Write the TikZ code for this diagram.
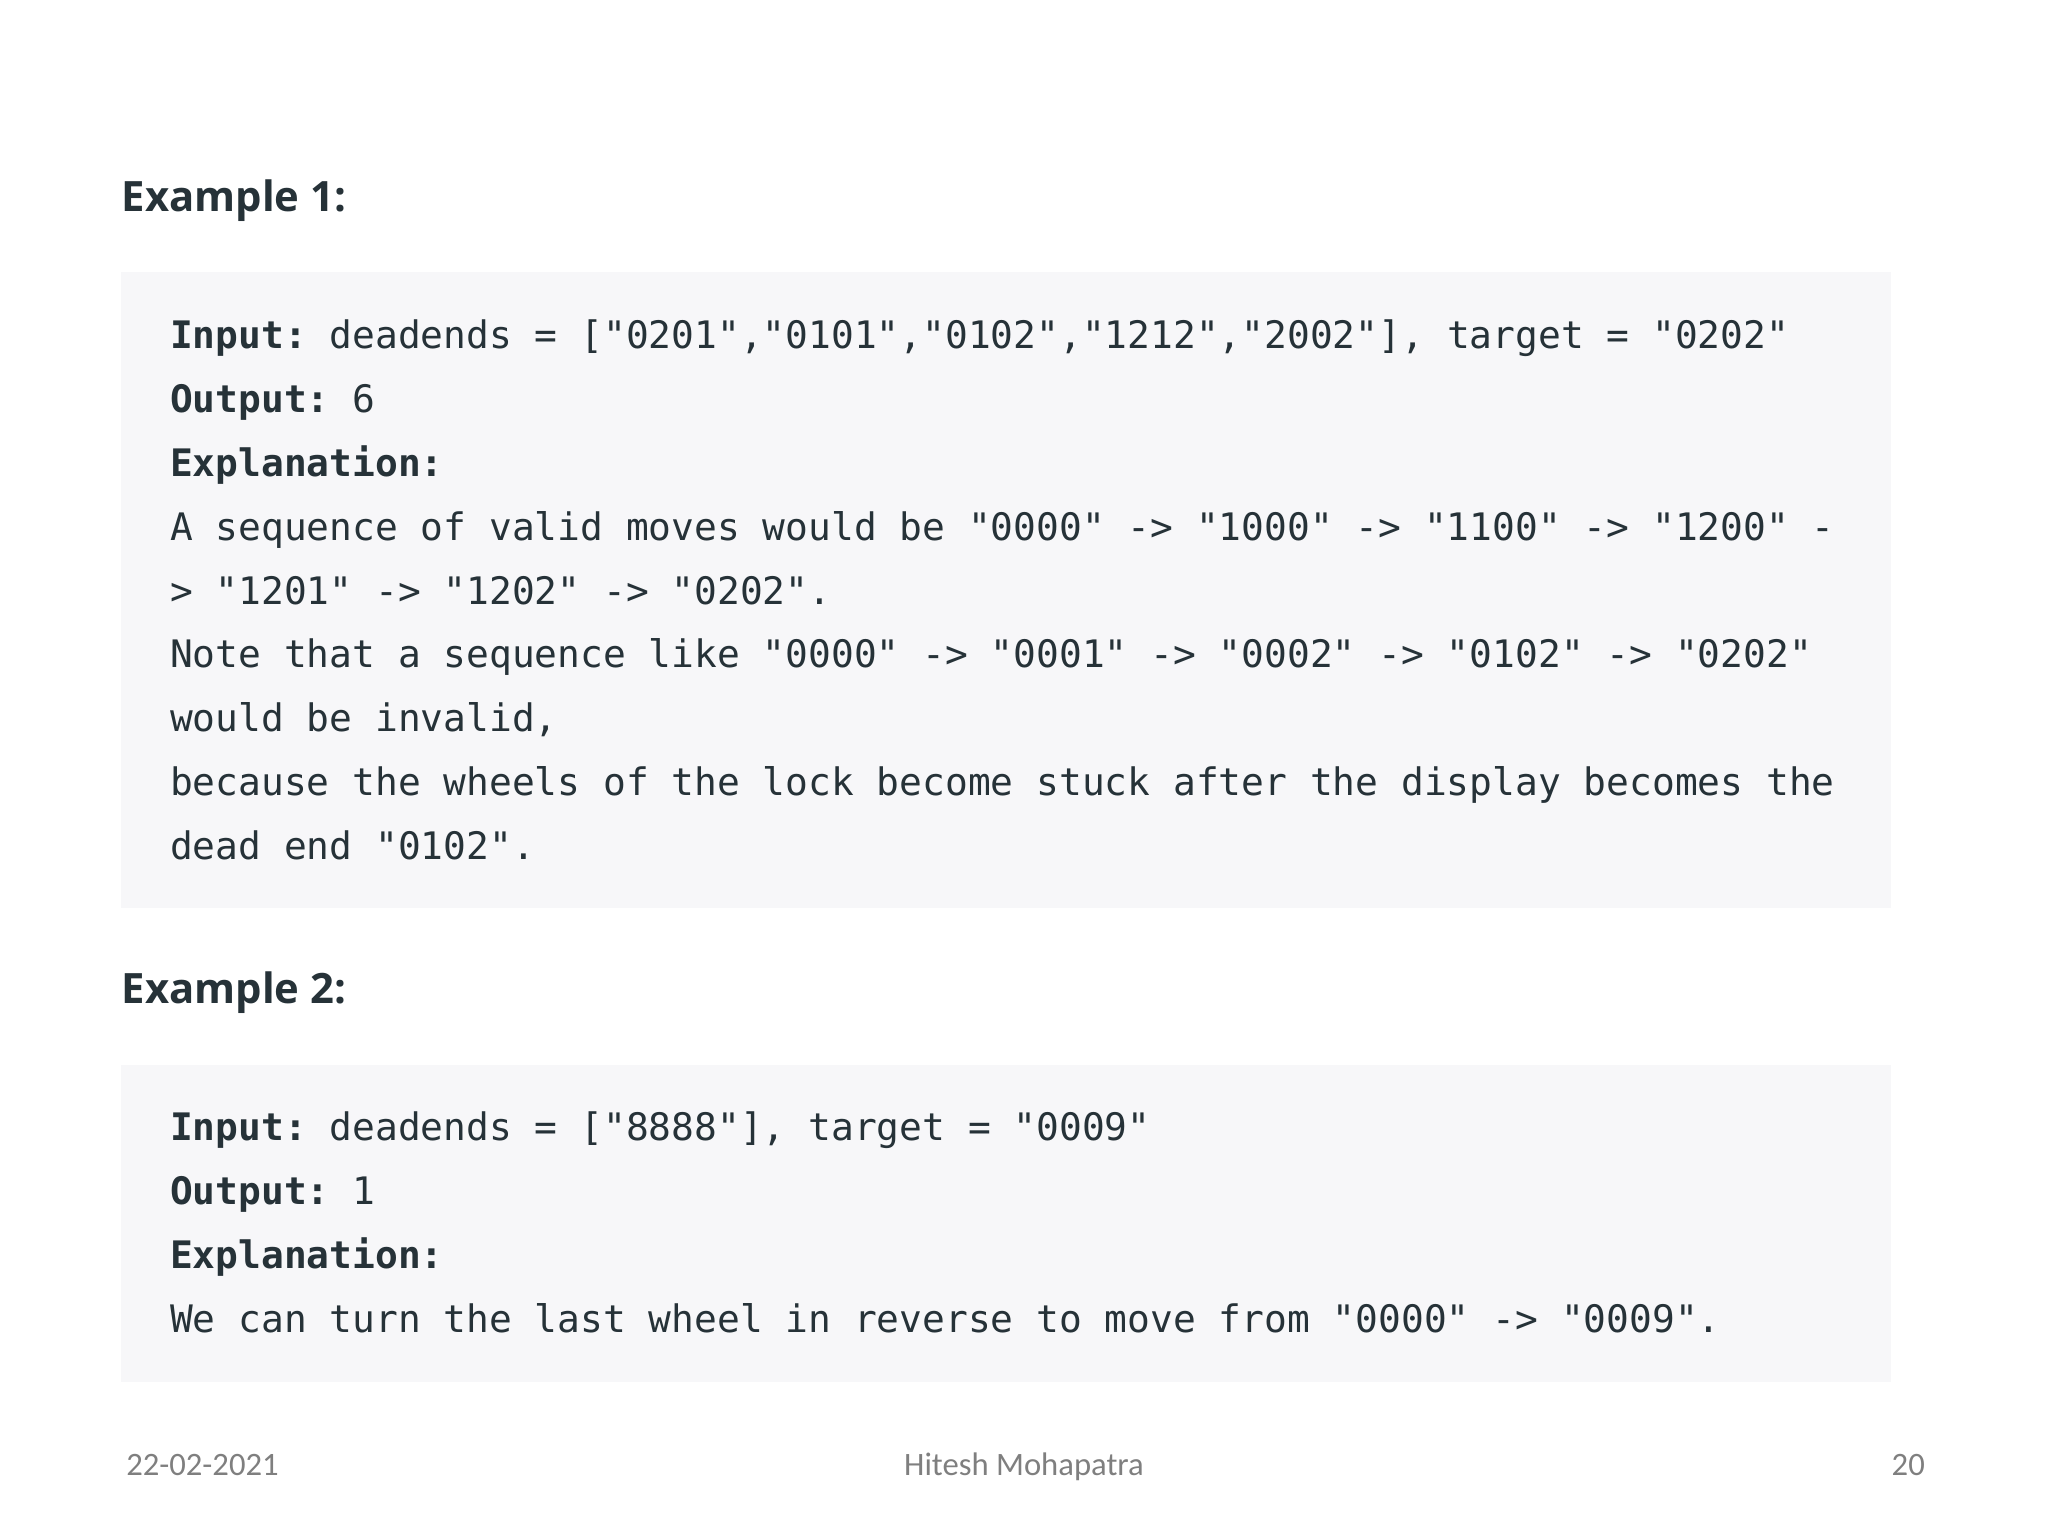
\documentclass[tikz,border=0pt]{standalone}
\usepackage{fontspec}
\setmainfont{Carlito}
\setmonofont{DejaVu Sans Mono}
\newfontfamily\headfont{Open Sans}
\definecolor{txt}{HTML}{263238}
\definecolor{boxbg}{HTML}{F7F7F9}
\definecolor{foot}{HTML}{7F7F7F}
\begin{document}
\begin{tikzpicture}[x=1pt,y=-1pt,
  code/.style={anchor=base west,inner sep=0,text=txt,font=\ttfamily\fontsize{29}{29}\selectfont},
  head/.style={anchor=base west,inner sep=0,text=txt,font=\headfont\bfseries\fontsize{32}{32}\selectfont},
  ft/.style={anchor=base,inner sep=0,text=foot,font=\fontsize{25}{25}\selectfont}]
\useasboundingbox (0,0) rectangle (1568,1176);
\fill[boxbg] (93,208) rectangle (1448,695);
\fill[boxbg] (93,815) rectangle (1448,1058);
\node[head] (h1) at (93,162) {Example 1:};
\node[head] (h2) at (93,768) {Example 2:};
\node[code] (a1) at (130,267) {\textbf{Input:} deadends = ["0201","0101","0102","1212","2002"], target = "0202"};
\node[code] (a2) at (130,316) {\textbf{Output:} 6};
\node[code] (a3) at (130,365) {\textbf{Explanation:}};
\node[code] (a4) at (130,414) {A sequence of valid moves would be "0000" -> "1000" -> "1100" -> "1200" -};
\node[code] (a5) at (130,463) {> "1201" -> "1202" -> "0202".};
\node[code] (a6) at (130,511) {Note that a sequence like "0000" -> "0001" -> "0002" -> "0102" -> "0202"};
\node[code] (a7) at (130,560) {would be invalid,};
\node[code] (a8) at (130,609) {because the wheels of the lock become stuck after the display becomes the};
\node[code] (a9) at (130,658) {dead end "0102".};
\node[code] (b1) at (130,873) {\textbf{Input:} deadends = ["8888"], target = "0009"};
\node[code] (b2) at (130,922) {\textbf{Output:} 1};
\node[code] (b3) at (130,971) {\textbf{Explanation:}};
\node[code] (b4) at (130,1020) {We can turn the last wheel in reverse to move from "0000" -> "0009".};
\node[ft] (f1) at (155,1130) {22-02-2021};
\node[ft] (f2) at (784,1130) {Hitesh Mohapatra};
\node[ft] (f3) at (1461,1130) {20};
\end{tikzpicture}
\end{document}
